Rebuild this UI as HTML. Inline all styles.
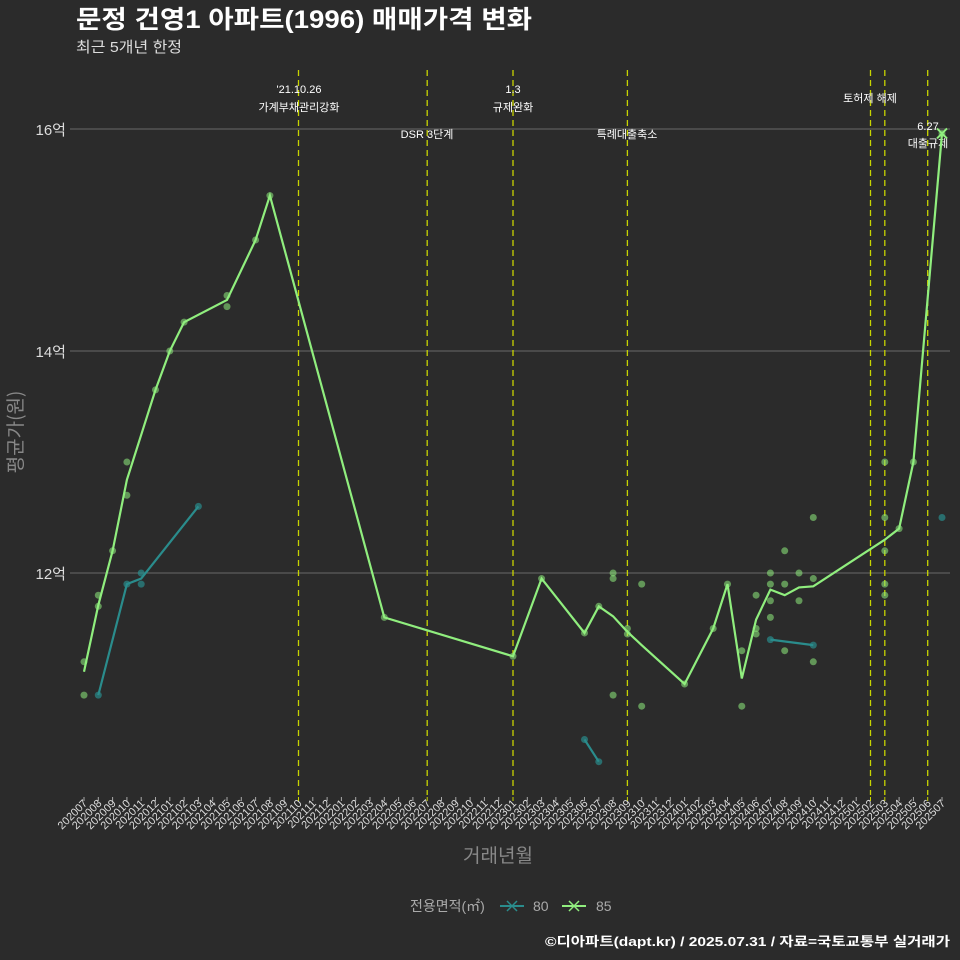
<!DOCTYPE html>
<html><head><meta charset="utf-8"><style>
html,body{margin:0;padding:0;background:#2b2b2b;}
svg{display:block;font-family:"Liberation Sans","Noto Sans CJK KR",sans-serif;}
</style></head><body>
<svg id="chart" width="960" height="960" viewBox="0 0 960 960">
<rect width="960" height="960" fill="#2b2b2b"/>
<text x="76" y="28" font-size="25" font-weight="bold" fill="#fff" textLength="456" lengthAdjust="spacingAndGlyphs">문정 건영1 아파트(1996) 매매가격 변화</text>
<text x="76" y="52" font-size="15" fill="#ddd" textLength="106" lengthAdjust="spacingAndGlyphs">최근 5개년 한정</text>
<g id="grid"></g><g id="vlines"></g><g id="marks"></g><g id="axes"></g>
<text x="498" y="862" font-size="19" fill="#888" text-anchor="middle" style='font-family:"Noto Sans CJK KR",sans-serif'>거래년월</text>
<text transform="translate(22,432) rotate(-90)" font-size="19" fill="#888" text-anchor="middle" style='font-family:"Noto Sans CJK KR",sans-serif'>평균가(원)</text>
<g>
<text x="410" y="911" font-size="14" fill="#aaa">전용면적(㎡)</text>
<g><line x1="500" y1="906" x2="524" y2="906" stroke="#2a8c8c" stroke-width="2"/><path d="M507 901l10 10M517 901l-10 10" stroke="#2a8c8c" stroke-width="1.5"/><text x="533" y="911" font-size="14" fill="#aaa">80</text></g>
<g><line x1="562" y1="906" x2="586" y2="906" stroke="#90ee7e" stroke-width="2"/><path d="M569 901l10 10M579 901l-10 10" stroke="#90ee7e" stroke-width="1.5"/><text x="596" y="911" font-size="14" fill="#aaa">85</text></g>
</g>
<text x="950" y="946" font-size="13" font-weight="bold" fill="#fff" text-anchor="end" textLength="405" lengthAdjust="spacingAndGlyphs">©디아파트(dapt.kr) / 2025.07.31 / 자료=국토교통부 실거래가</text>
</svg>
<script>
const months=[];for(let y=2020,m=7;y<2025||(y===2025&&m<=7);){months.push(''+y+(m<10?'0':'')+m);m++;if(m>12){m=1;y++;}}
const yTicks=[12,14,16];
const yTickLabels=['12억','14억','16억'];
const line85Months=['202007','202008','202009','202010','202012','202101','202102','202105','202107','202108','202204','202301','202303','202306','202307','202308','202309','202310','202401','202403','202404','202405','202406','202407','202408','202409','202410','202503','202504','202505','202507'];
const line85Values=[11.11,11.71,12.2,12.84,13.65,14.0,14.26,14.46,15.0,15.4,11.6,11.25,11.95,11.46,11.7,11.61,11.47,11.35,11.0,11.5,11.9,11.05,11.58,11.85,11.8,11.87,11.88,12.3,12.4,13.0,15.96];
const dots85Months=['202007','202007','202008','202008','202009','202010','202010','202012','202101','202102','202105','202105','202107','202108','202204','202301','202303','202306','202307','202308','202308','202308','202309','202309','202310','202310','202401','202403','202404','202405','202405','202406','202406','202406','202407','202407','202407','202407','202408','202408','202408','202409','202409','202410','202410','202410','202503','202503','202503','202503','202503','202504','202505','202507'];
const dots85Values=[11.2,10.9,11.8,11.7,12.2,13.0,12.7,13.65,14.0,14.26,14.5,14.4,15.0,15.4,11.6,11.25,11.95,11.46,11.7,12.0,11.95,10.9,11.5,11.45,11.9,10.8,11.0,11.5,11.9,11.3,10.8,11.8,11.5,11.45,12.0,11.9,11.75,11.6,12.2,11.9,11.3,12.0,11.75,12.5,11.95,11.2,13.0,12.5,12.2,11.9,11.8,12.4,13.0,15.96];
const line80Segments=[[['202008','202010','202011','202103'],[10.9,11.9,11.95,12.6]],[['202306','202307'],[10.5,10.3]],[['202407','202410'],[11.4,11.35]]];
const dots80Months=['202008','202010','202011','202011','202103','202306','202307','202407','202410','202507'];
const dots80Values=[10.9,11.9,12.0,11.9,12.6,10.5,10.3,11.4,11.35,12.5];
const eventMonths=['202110','202207','202301','202309','202502','202503','202506'];
const eventLabels=[["'21.10.26","가계부채관리강화"],["DSR 3단계"],["1.3","규제완화"],["특례대출축소"],[""],["토허제 해제"],["6.27","대출규제"]];
const eventLabelY=[[93,111],[138],[93,111],[138],[],[102],[130,147]];
const eventLabelX=[299,427,513,627,870,870,928];

const NS='http://www.w3.org/2000/svg';
const x0=84,x1=942,yRef=573,pxPer=111;
function X(m){return x0+months.indexOf(m)*(x1-x0)/(months.length-1);}
function Y(v){return yRef-(v-12)*pxPer;}
function el(tag,attrs,parent){const e=document.createElementNS(NS,tag);for(const k in attrs)e.setAttribute(k,attrs[k]);parent.appendChild(e);return e;}
const grid=document.getElementById('grid'),vl=document.getElementById('vlines'),mk=document.getElementById('marks'),ax=document.getElementById('axes');
yTicks.forEach((t,i)=>{
 const g=el('line',{x1:70,x2:950,y1:Y(t),y2:Y(t),stroke:'#6a6a6a','stroke-width':1},grid);
 
 
 const tx=el('text',{x:66,y:Y(t)+6,'font-size':15,fill:'#ddd','text-anchor':'end'},ax);
 tx.textContent=yTickLabels[i];
 
 
});
eventMonths.forEach((m,i)=>{
 const l=el('line',{x1:X(m),x2:X(m),y1:70,y2:795,stroke:'#c8d400','stroke-width':1.3,'stroke-dasharray':'6,4'},vl);
 
 
 eventLabels[i].forEach((s,j)=>{ if(!s)return;
  const t=el('text',{x:eventLabelX[i],y:eventLabelY[i][j],'font-size':11,fill:'#fff','text-anchor':'middle'},vl);
  t.textContent=s;
  
  
 });
});
months.forEach((m,i)=>{
 const x=X(m);
 const isEv=eventMonths.includes(m);
 const tk=el('line',{x1:x,x2:x,y1:797,y2:801,stroke:isEv?'#c8d400':'#aaa'},ax);
 
 
 const t=el('text',{transform:`translate(${x+4},804) rotate(-45)`,'font-size':11,fill:'#ddd','text-anchor':'end'},ax);
 t.textContent=m;
 
 
});
dots85Months.forEach((m,i)=>{
 const c=el('circle',{cx:X(m),cy:Y(dots85Values[i]),r:3.5,fill:'#90ee7e','fill-opacity':0.55},mk);
 
 
});
dots80Months.forEach((m,i)=>{
 const c=el('circle',{cx:X(m),cy:Y(dots80Values[i]),r:3.5,fill:'#2a8c8c','fill-opacity':0.7},mk);
 
 
});
line80Segments.forEach(seg=>{
 const p=el('polyline',{points:seg[0].map((m,i)=>X(m)+','+Y(seg[1][i])).join(' '),fill:'none',stroke:'#2a8c8c','stroke-width':2.2},mk);
 
 
});
const p85=el('polyline',{points:line85Months.map((m,i)=>X(m)+','+Y(line85Values[i])).join(' '),fill:'none',stroke:'#90ee7e','stroke-width':2.2},mk);


const lm=line85Months[line85Months.length-1],lv=line85Values[line85Values.length-1];
const xm=el('path',{d:`M${X(lm)-5} ${Y(lv)-5}l10 10M${X(lm)+5} ${Y(lv)-5}l-10 10`,stroke:'#90ee7e','stroke-width':2},mk);


</script>
</body></html>
